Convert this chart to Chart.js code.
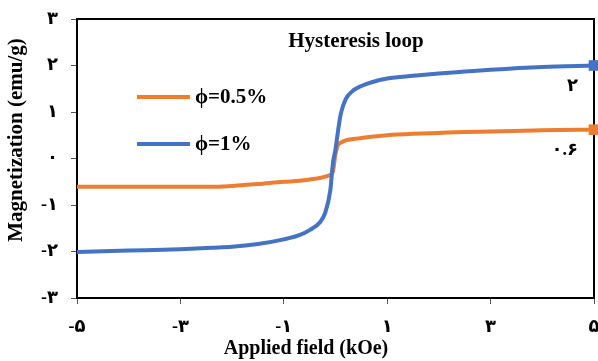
<!DOCTYPE html>
<html>
<head>
<meta charset="utf-8">
<script src="https://cdn.jsdelivr.net/npm/chart.js@4.4.0/dist/chart.umd.min.js"></script>
<style>body{margin:0;background:#fff}</style>
</head>
<body>
<canvas id="hyst" width="598" height="361"></canvas>
<script>
// field (kOe) and magnetization (emu/g)
var field   = [-5, -4, -3, -2.4, -2, -1.5, -1, -0.7, -0.5, -0.3, -0.2, -0.1, -0.05, 0, 0.05, 0.1, 0.2, 0.35, 0.5, 0.7, 1, 1.5, 2, 2.5, 3, 4, 5];
var magHalf = [-0.61, -0.61, -0.61, -0.61, -0.59, -0.55, -0.5, -0.48, -0.45, -0.42, -0.39, -0.35, -0.28, 0.1, 0.3, 0.34, 0.39, 0.42, 0.44, 0.47, 0.5, 0.53, 0.55, 0.57, 0.58, 0.61, 0.62];
var magOne  = [-2.01, -1.98, -1.95, -1.92, -1.9, -1.84, -1.74, -1.65, -1.54, -1.37, -1.17, -0.68, -0.1, 0.2, 0.6, 0.95, 1.28, 1.47, 1.56, 1.64, 1.72, 1.78, 1.83, 1.87, 1.91, 1.97, 2.0];

var seriesNames = ['ϕ=0.5%', 'ϕ=1%'];
var endLabels = ['۰.۶', '۲'];
var xTicks = [-5, -3, -1, 1, 3, 5];
var xTickLabels = ['-۵', '-۳', '-۱', '۱', '۳', '۵'];
var yTicks = [-3, -2, -1, 0, 1, 2, 3];
var yTickLabels = ['-۳', '-۲', '-۱', '۰', '۱', '۲', '۳'];

var serif = '"Liberation Serif", "DejaVu Sans", serif';
var orange = '#ED7D31';
var blue = '#4472C4';

function pts(ys) {
    return field.map(function(x, i) { return {x: x, y: ys[i]}; });
}
function endRadius(c) {
    return c.dataIndex === field.length - 1 ? 7.5 : 0;
}
function noPad(s) {
    s.paddingLeft = 0; s.paddingRight = 0; s.paddingTop = 0; s.paddingBottom = 0;
}

// frame, title, legend, axis titles, end labels
var extras = {
    id: 'extras',
    beforeDatasetsDraw: function(chart) {
        var ctx = chart.ctx, a = chart.chartArea;
        ctx.save();
        ctx.strokeStyle = '#000';
        ctx.lineWidth = 2;
        ctx.beginPath();
        ctx.moveTo(a.left, a.top);
        ctx.lineTo(a.right, a.top);
        ctx.lineTo(a.right, a.bottom);
        ctx.stroke();
        ctx.restore();
    },
    afterDraw: function(chart) {
        var ctx = chart.ctx;
        ctx.save();
        ctx.fillStyle = '#000';
        ctx.textBaseline = 'middle';

        ctx.font = 'bold 21px ' + serif;
        ctx.textAlign = 'center';
        ctx.fillText('Hysteresis loop', 356, 42);

        // legend
        var cols = [orange, blue], ly = [97, 144];
        ctx.textAlign = 'left';
        ctx.font = 'bold 21px ' + serif;
        for (var i = 0; i < 2; i++) {
            ctx.strokeStyle = cols[i];
            ctx.lineWidth = 4;
            ctx.beginPath();
            ctx.moveTo(137, ly[i]);
            ctx.lineTo(190, ly[i]);
            ctx.stroke();
            ctx.fillText(seriesNames[i], 195, ly[i] + 1);
        }

        // axis titles
        ctx.textAlign = 'center';
        ctx.font = 'bold 20px ' + serif;
        ctx.fillText('Applied field (kOe)', 306, 349);
        ctx.save();
        ctx.font = 'bold 21px ' + serif;
        ctx.translate(17, 140);
        ctx.rotate(-Math.PI / 2);
        ctx.fillText('Magnetization (emu/g)', 0, 0);
        ctx.restore();

        // value labels at the last points
        ctx.font = 'bold 18px ' + serif;
        ctx.textAlign = 'right';
        chart.data.datasets.forEach(function(ds, di) {
            var meta = chart.getDatasetMeta(di);
            var p = meta.data[meta.data.length - 1];
            ctx.fillText(ds.endLabel, p.x - 16, p.y + 21);
        });
        ctx.restore();
    }
};

var ctx = document.getElementById('hyst').getContext('2d');
var chart = new Chart(ctx, {
    type: 'scatter',
    data: {
        datasets: [{
            label: seriesNames[0],
            endLabel: endLabels[0],
            data: pts(magHalf),
            showLine: true,
            borderColor: orange,
            backgroundColor: orange,
            borderWidth: 4,
            cubicInterpolationMode: 'monotone',
            pointStyle: 'rect',
            pointRadius: endRadius,
            pointBorderWidth: 0,
            clip: false,
            order: 1
        }, {
            label: seriesNames[1],
            endLabel: endLabels[1],
            data: pts(magOne),
            showLine: true,
            borderColor: blue,
            backgroundColor: blue,
            borderWidth: 4,
            cubicInterpolationMode: 'monotone',
            pointStyle: 'rect',
            pointRadius: endRadius,
            pointBorderWidth: 0,
            clip: false,
            order: 0
        }]
    },
    options: {
        responsive: false,
        animation: false,
        layout: {autoPadding: false, padding: {top: 19, right: 4, left: 0, bottom: 0}},
        plugins: {legend: {display: false}, tooltip: {enabled: false}},
        scales: {
            x: {
                type: 'linear', min: -5, max: 5,
                afterBuildTicks: function(s) { s.ticks = xTicks.map(function(v) { return {value: v}; }); },
                afterFit: function(s) { s.height = 63; noPad(s); },
                grid: {drawOnChartArea: false, tickLength: 6, color: '#555'},
                border: {color: '#000', width: 2},
                ticks: {
                    callback: function(v, i) { return xTickLabels[i]; },
                    font: {family: serif, size: 18, weight: 'bold'},
                    color: '#000', padding: 13, maxRotation: 0
                }
            },
            y: {
                min: -3, max: 3,
                afterBuildTicks: function(s) { s.ticks = yTicks.map(function(v) { return {value: v}; }); },
                afterFit: function(s) { s.width = 77; noPad(s); },
                grid: {drawOnChartArea: false, tickLength: 6, color: '#555'},
                border: {color: '#000', width: 2},
                ticks: {
                    callback: function(v, i) { return yTickLabels[i]; },
                    font: {family: serif, size: 18, weight: 'bold'},
                    color: '#000', padding: 13
                }
            }
        }
    },
    plugins: [extras]
});
</script>
</body>
</html>
